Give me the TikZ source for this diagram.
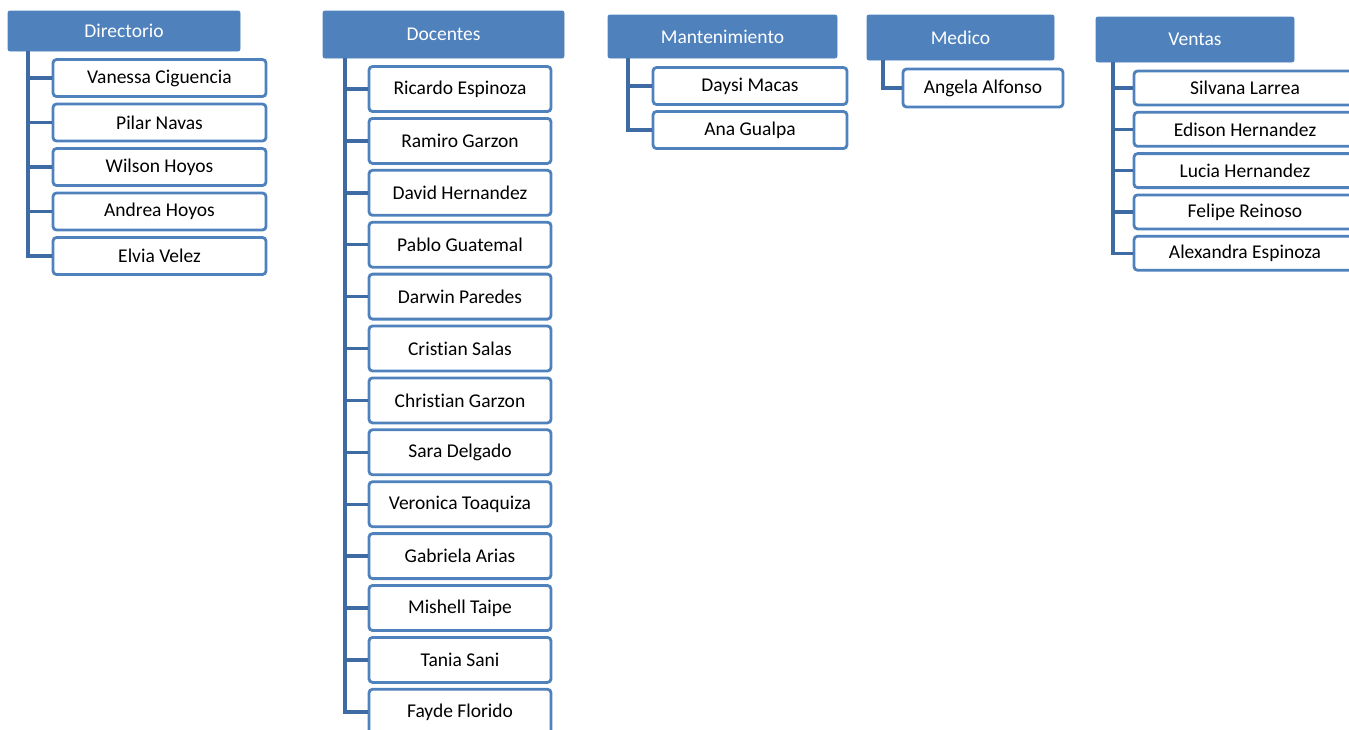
\documentclass[tikz,border=0pt]{standalone}
\usepackage{fontspec}
\setmainfont[Ligatures=NoCommon]{Carlito}
\definecolor{hdrblue}{HTML}{4F81BD}
\definecolor{lineblue}{HTML}{3E6BA3}
\tikzset{
  hdr/.style={draw=hdrblue, fill=hdrblue, rounded corners=2pt, line width=0.8pt, text=white, font=\fontsize{19.5}{22}\selectfont, inner sep=0pt},
  person/.style={draw=hdrblue, fill=white, rounded corners=3.5pt, line width=2.8pt, text=black, font=\fontsize{19.5}{22}\selectfont, inner sep=0pt},
  conn/.style={draw=lineblue, line width=3.4pt}
}
\begin{document}
\begin{tikzpicture}[x=1pt,y=-1pt]
\clip (0,0) rectangle (1349,729);
\useasboundingbox (0,0) rectangle (1349,729);
% headers
\node[hdr, minimum width=232pt, minimum height=40pt] (hD) at (124,31) {Directorio};
\node[hdr, minimum width=241pt, minimum height=47pt] (hC) at (443.5,34.5) {Docentes};
\node[hdr, minimum width=229pt, minimum height=43pt] (hM) at (722.5,36.5) {Mantenimiento};
\node[hdr, minimum width=187pt, minimum height=45pt] (hE) at (960.5,37.5) {Medico};
\node[hdr, minimum width=198pt, minimum height=45pt] (hV) at (1195,39.5) {Ventas};
% trunk tops
\coordinate (tD) at (28,51);
\coordinate (tC) at (345,58);
\coordinate (tM) at (628,58);
\coordinate (tE) at (883,60);
\coordinate (tV) at (1113,62);
% Directorio
\foreach \n [count=\i] in {Vanessa Ciguencia,Pilar Navas,Wilson Hoyos,Andrea Hoyos,Elvia Velez}{
  \node[person, minimum width=213pt, minimum height=37pt] (d\i) at (159.5,{78+44.5*(\i-1)}) {\n};
  \draw[conn] (d\i.west -| tD) -- (d\i.west);
}
\draw[conn] (tD) |- (d5.west);
% Docentes
\foreach \n [count=\i] in {Ricardo Espinoza,Ramiro Garzon,David Hernandez,Pablo Guatemal,Darwin Paredes,Cristian Salas,Christian Garzon,Sara Delgado,Veronica Toaquiza,Gabriela Arias,Mishell Taipe,Tania Sani,Fayde Florido}{
  \node[person, minimum width=182pt, minimum height=45pt] (c\i) at (460,{89+51.9*(\i-1)}) {\n};
  \draw[conn] (c\i.west -| tC) -- (c\i.west);
}
\draw[conn] (tC) |- (c13.west);
% Mantenimiento
\foreach \n [count=\i] in {Daysi Macas,Ana Gualpa}{
  \node[person, minimum width=194pt, minimum height=37pt] (m\i) at (750,{86+44*(\i-1)}) {\n};
  \draw[conn] (m\i.west -| tM) -- (m\i.west);
}
\draw[conn] (tM) |- (m2.west);
% Medico
\node[person, minimum width=160pt, minimum height=38pt] (e1) at (983,88) {Angela Alfonso};
\draw[conn] (tE) |- (e1.west);
% Ventas
\foreach \n [count=\i] in {Silvana Larrea,Edison Hernandez,Lucia Hernandez,Felipe Reinoso,Alexandra Espinoza}{
  \node[person, minimum width=222pt, minimum height=34pt] (v\i) at (1245,{88+41.3*(\i-1)}) {\n};
  \draw[conn] (v\i.west -| tV) -- (v\i.west);
}
\draw[conn] (tV) |- (v5.west);
\end{tikzpicture}
\end{document}
